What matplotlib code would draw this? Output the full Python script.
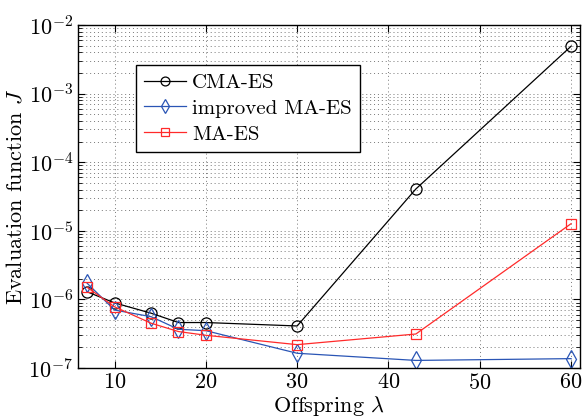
import numpy as np
import matplotlib
matplotlib.use('Agg')
import matplotlib.pyplot as plt
from matplotlib.ticker import LogLocator, FixedLocator, NullFormatter

plt.rcParams['mathtext.fontset'] = 'cm'
plt.rcParams['font.family'] = 'serif'
plt.rcParams['font.serif'] = ['cmr10', 'DejaVu Serif']
plt.rcParams['axes.formatter.use_mathtext'] = True

# offspring sizes
offspring = [7, 10, 14, 17, 20, 30, 43, 60]

# evaluation function values
cma_es = [1.29e-6, 8.9e-7, 6.3e-7, 4.6e-7, 4.6e-7, 4.1e-7, 4.07e-5, 4.9e-3]
improved_ma_es = [1.72e-6, 7.0e-7, 5.6e-7, 3.67e-7, 3.5e-7, 1.64e-7, 1.29e-7, 1.37e-7]
ma_es = [1.5e-6, 7.8e-7, 4.5e-7, 3.4e-7, 3.0e-7, 2.19e-7, 3.13e-7, 1.27e-5]

xticks = [10, 20, 30, 40, 50, 60]

fig = plt.figure(figsize=(5.84, 4.18), dpi=100)
ax = fig.add_axes([0.1336, 0.1196, 0.8599, 0.8206])

ax.plot(offspring, cma_es, color='black', lw=0.9, marker='o', ms=8,
        mfc='none', mew=0.9, label='CMA-ES')
ax.plot(offspring, improved_ma_es, color='#2a55b5', lw=0.9, marker='d', ms=9,
        mfc='none', mew=0.9, label='improved MA-ES')
ax.plot(offspring, ma_es, color='#ff2a2a', lw=0.9, marker='s', ms=7,
        mfc='none', mew=0.9, label='MA-ES')

ax.set_yscale('log')
ax.set_xlim(6, 61)
ax.set_ylim(1e-7, 1e-2)
ax.xaxis.set_major_locator(FixedLocator(xticks))
ax.yaxis.set_major_locator(LogLocator(base=10, numticks=10))
ax.yaxis.set_minor_locator(LogLocator(base=10, subs=np.arange(2, 10), numticks=20))
ax.yaxis.set_minor_formatter(NullFormatter())

ax.grid(True, which='major', linestyle=(0, (1, 3)), color='#777777', lw=0.7)
ax.grid(True, which='minor', axis='y', linestyle=(0, (1, 3)), color='#777777', lw=0.7)

ax.tick_params(which='both', direction='in', top=True, right=True, labelsize=16)
ax.tick_params(which='major', length=5)
ax.tick_params(which='minor', length=3)
for s in ax.spines.values():
    s.set_linewidth(1.0)

ax.set_xlabel(r'Offspring $\lambda$', fontsize=16, labelpad=1)
ax.set_ylabel(r'Evaluation function $J$', fontsize=16, labelpad=2)

leg = ax.legend(loc='upper left', bbox_to_anchor=(0.094, 0.914), fontsize=15,
                fancybox=False, framealpha=1, edgecolor='black',
                handlelength=2.0, borderpad=0.4, labelspacing=0.35,
                handletextpad=0.3, markerscale=0.8)
leg.get_frame().set_linewidth(1.0)

fig.savefig('out.png', dpi=100)
